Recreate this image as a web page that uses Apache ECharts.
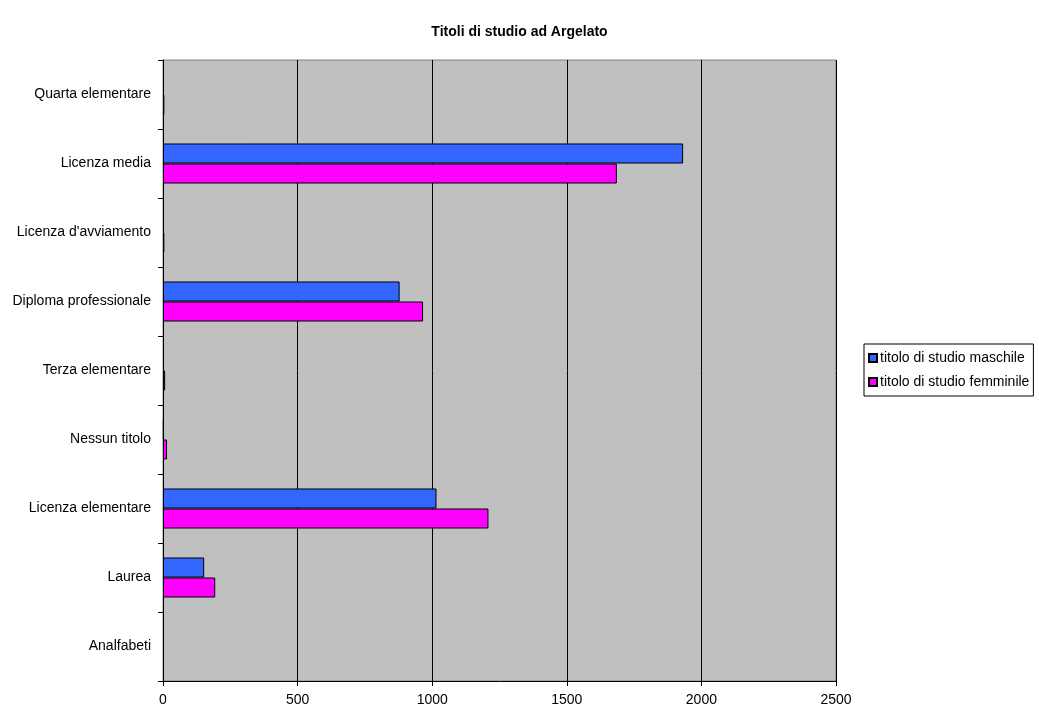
<!DOCTYPE html>
<html>
<head>
<meta charset="utf-8">
<script src="https://cdn.jsdelivr.net/npm/echarts@6/dist/echarts.min.js"></script>
<style>
  html, body { margin: 0; padding: 0; background: #fff; }
  #chart { width: 1039px; height: 709px; }
</style>
</head>
<body>
<div id="chart"></div>
<script>
// categories from bottom to top (as drawn on the y axis)
var categories = ['Analfabeti', 'Laurea', 'Licenza elementare', 'Nessun titolo',
    'Terza elementare', 'Diploma professionale', "Licenza d'avviamento",
    'Licenza media', 'Quarta elementare'];
var maschile = [0, 153, 1016, 3, 0, 879, 0, 1932, 0];
var femminile = [0, 194, 1209, 15, 8, 966, 5, 1686, 5];
var xTicks = [0, 500, 1000, 1500, 2000, 2500];

var myChart = echarts.init(document.getElementById('chart'));

var textFont = { fontFamily: 'Liberation Sans, Arial, sans-serif', fontSize: 14, color: '#000' };

// empty cells draw nothing (no border line at zero)
function bars(values) {
    return values.map(function (v) { return v === 0 ? null : v; });
}

var option = {
    animation: false,
    title: {
        text: 'Titoli di studio ad Argelato',
        left: 'center',
        top: 20,
        textStyle: { fontFamily: 'Liberation Sans, Arial, sans-serif', fontSize: 14, fontWeight: 'bold', color: '#000' }
    },
    legend: {
        orient: 'vertical',
        left: 864,
        top: 344,
        itemWidth: 8,
        itemHeight: 8,
        itemGap: 10,
        padding: [7, 4, 7, 4],
        borderColor: '#000',
        borderWidth: 1,
        icon: 'rect',
        textStyle: Object.assign({ padding: [0, 0, 0, -2] }, textFont),
        data: ['titolo di studio maschile', 'titolo di studio femminile']
    },
    grid: {
        left: 163,
        right: 203,
        top: 60,
        bottom: 28,
        show: true,
        backgroundColor: '#C0C0C0',
        borderColor: '#808080',
        borderWidth: 1
    },
    xAxis: {
        type: 'value',
        min: xTicks[0],
        max: xTicks[xTicks.length - 1],
        interval: 500,
        axisLine: { show: true, lineStyle: { color: '#000' } },
        axisTick: { show: true, length: 5, lineStyle: { color: '#000' } },
        axisLabel: Object.assign({
            margin: 12,
            formatter: function (v) { return String(v); }
        }, textFont),
        splitLine: { show: true, lineStyle: { color: '#000', width: 1 } }
    },
    yAxis: {
        type: 'category',
        data: categories,
        axisLine: { show: true, lineStyle: { color: '#000' } },
        axisTick: { show: true, length: 5, lineStyle: { color: '#000' } },
        axisLabel: Object.assign({ margin: 12 }, textFont),
        splitLine: { show: false }
    },
    series: [{
        name: 'titolo di studio maschile',
        type: 'bar',
        data: bars(maschile),
        barGap: '0%',
        barCategoryGap: '42%',
        itemStyle: { color: '#3366FF', borderColor: '#000', borderWidth: 1 }
    }, {
        name: 'titolo di studio femminile',
        type: 'bar',
        data: bars(femminile),
        barGap: '0%',
        barCategoryGap: '42%',
        itemStyle: { color: '#FF00FF', borderColor: '#000', borderWidth: 1 }
    }]
};

myChart.setOption(option);
</script>
</body>
</html>
